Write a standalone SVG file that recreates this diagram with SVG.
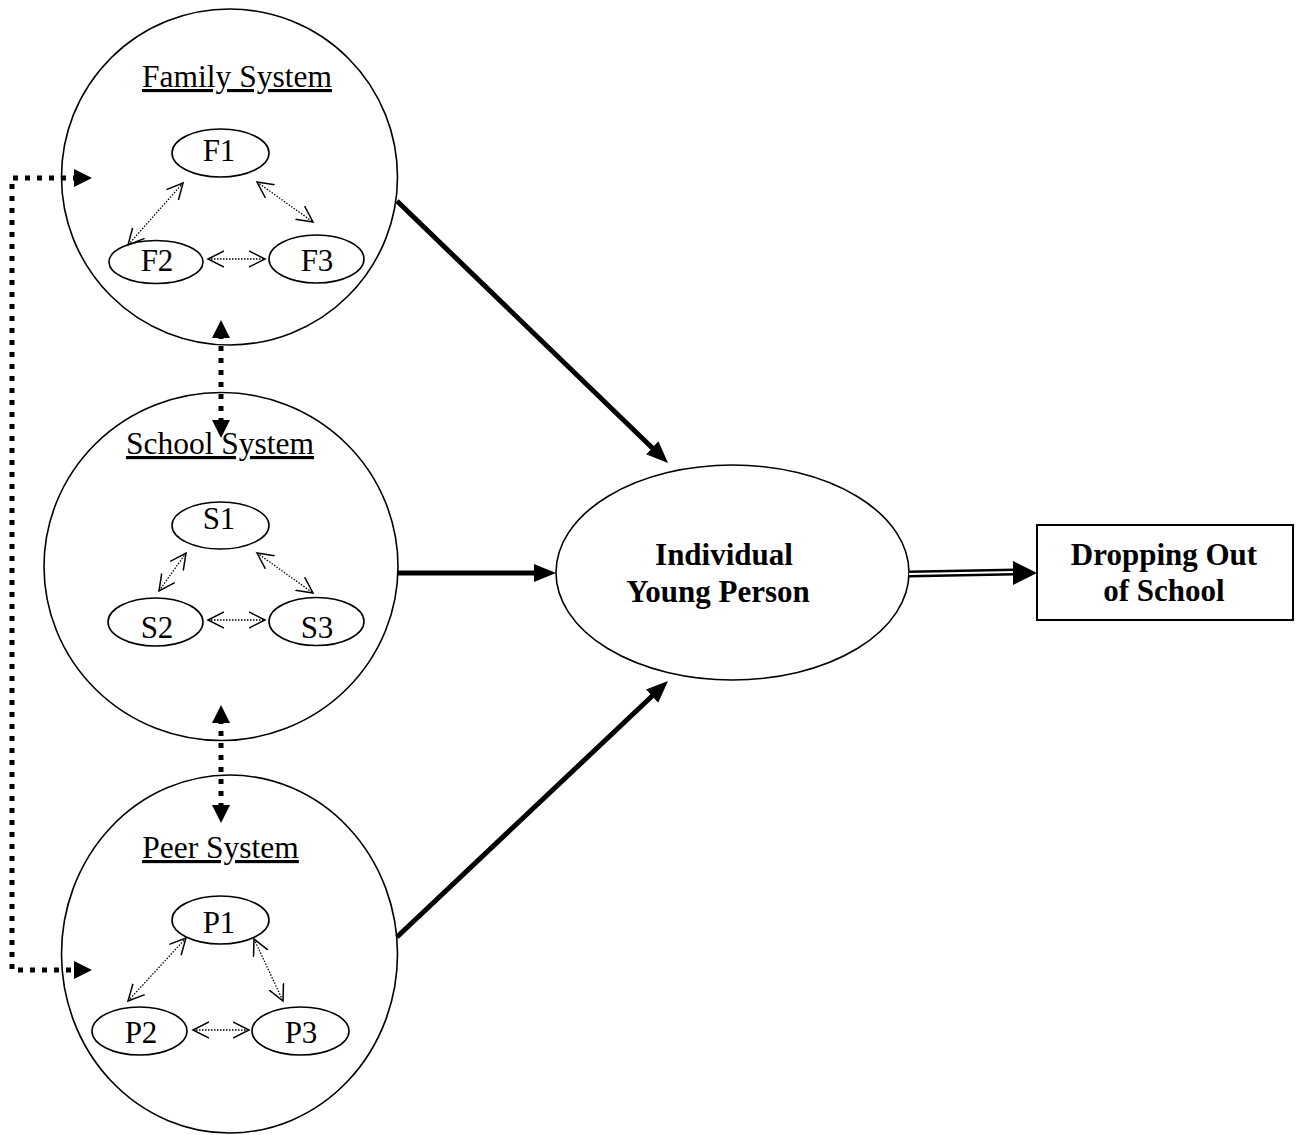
<svg xmlns="http://www.w3.org/2000/svg" width="1298" height="1135" viewBox="0 0 1298 1135">
<style>
.big{fill:#fff;stroke:#000;stroke-width:1.6}
.small{fill:#fff;stroke:#000;stroke-width:1.6}
.t{font-family:"Liberation Serif","Times New Roman",serif;fill:#000}
.sys{font-size:31.5px;text-decoration:underline}
.lab{font-size:31px}
.bold{font-size:31px;font-weight:bold}
.thin{fill:none;stroke:#000;stroke-width:1.3;stroke-dasharray:1.5 1.5;marker-start:url(#open);marker-end:url(#open)}
.thick{fill:none;stroke:#000;stroke-width:5;marker-end:url(#solid)}
.dots{fill:none;stroke:#000;stroke-width:5;stroke-dasharray:5 7;marker-start:url(#dhead);marker-end:url(#dhead)}
</style>
<defs>
<marker id="open" markerUnits="userSpaceOnUse" viewBox="0 0 18 18" refX="16" refY="9" markerWidth="18" markerHeight="18" orient="auto-start-reverse">
<path d="M0,1 L16,9 L0,17" fill="none" stroke="#000" stroke-width="1.5"/>
</marker>
<marker id="solid" markerUnits="userSpaceOnUse" viewBox="0 0 22 18" refX="6" refY="9" markerWidth="22" markerHeight="18" orient="auto">
<path d="M0,0 L22,9 L0,18 z" fill="#000"/>
</marker>
<marker id="dhead" markerUnits="userSpaceOnUse" viewBox="0 0 18 18" refX="4" refY="9" markerWidth="18" markerHeight="18" orient="auto-start-reverse">
<path d="M0,0 L18,9 L0,18 z" fill="#000"/>
</marker>
</defs>
<rect width="1298" height="1135" fill="#fff"/>

<g id="family">
<ellipse class="big" cx="229.5" cy="177" rx="168" ry="168"/>
<text class="t sys" x="237" y="87" text-anchor="middle">Family System</text>
<ellipse class="small" cx="220.5" cy="153" rx="48.5" ry="24"/>
<text class="t lab" x="219" y="161" text-anchor="middle">F1</text>
<ellipse class="small" cx="156" cy="262" rx="47" ry="21.5"/>
<text class="t lab" x="157" y="271" text-anchor="middle">F2</text>
<ellipse class="small" cx="316.5" cy="259" rx="47.5" ry="24"/>
<text class="t lab" x="317" y="271" text-anchor="middle">F3</text>
</g>

<g id="school">
<ellipse class="big" cx="221" cy="566.5" rx="177" ry="174"/>
<text class="t sys" x="220" y="454" text-anchor="middle">School System</text>
<ellipse class="small" cx="220.5" cy="525.5" rx="48.5" ry="23.5"/>
<text class="t lab" x="219" y="529" text-anchor="middle">S1</text>
<ellipse class="small" cx="155.5" cy="622" rx="47.5" ry="24"/>
<text class="t lab" x="157" y="638" text-anchor="middle">S2</text>
<ellipse class="small" cx="316.5" cy="621.5" rx="47.5" ry="24"/>
<text class="t lab" x="317" y="638" text-anchor="middle">S3</text>
</g>

<g id="peer">
<ellipse class="big" cx="229.5" cy="954" rx="168" ry="179"/>
<text class="t sys" x="220.5" y="858" text-anchor="middle">Peer System</text>
<ellipse class="small" cx="220.5" cy="920" rx="48.5" ry="24"/>
<text class="t lab" x="219" y="933" text-anchor="middle">P1</text>
<ellipse class="small" cx="139.5" cy="1031" rx="47.5" ry="24"/>
<text class="t lab" x="141" y="1043" text-anchor="middle">P2</text>
<ellipse class="small" cx="300.5" cy="1031" rx="48.5" ry="24"/>
<text class="t lab" x="301" y="1043" text-anchor="middle">P3</text>
</g>

<g id="individual">
<ellipse class="big" cx="732.5" cy="572.5" rx="176.5" ry="107.5"/>
<text class="t bold" x="724" y="565" text-anchor="middle">Individual</text>
<text class="t bold" x="718" y="602" text-anchor="middle">Young Person</text>
</g>

<g id="dropout">
<rect x="1037" y="525" width="256" height="95" fill="#fff" stroke="#000" stroke-width="2"/>
<text class="t bold" x="1164" y="565" text-anchor="middle">Dropping Out</text>
<text class="t bold" x="1164" y="601" text-anchor="middle">of School</text>
</g>

<g id="connectors">
<path class="thin" d="M183,183 L128,245"/>
<path class="thin" d="M257,182 L313,222"/>
<path class="thin" d="M208,259 L265,259"/>
<path class="thin" d="M186,553 L159,591"/>
<path class="thin" d="M257,553 L313,593"/>
<path class="thin" d="M208,620 L265,620"/>
<path class="thin" d="M186,938 L128,1001"/>
<path class="thin" d="M254,939 L283,1001"/>
<path class="thin" d="M193,1030 L249,1030"/>
<path class="dots" d="M221,334 L221,424"/>
<path class="dots" d="M221,719 L221,809"/>
<path class="dots" d="M78,178 L12,178 L12,970 L78,970"/>
<path class="thick" d="M397,201 L656.5,452"/>
<path class="thick" d="M397,573 L540,573"/>
<path class="thick" d="M397,937 L656.4,692"/>
<path d="M909,574 L1015,572" fill="none" stroke="#000" stroke-width="7"/>
<path d="M909,574 L1015,572" fill="none" stroke="#fff" stroke-width="2"/>
<path d="M1013,561 L1037,573 L1013,585 z" fill="#000"/>
</g>
</svg>
